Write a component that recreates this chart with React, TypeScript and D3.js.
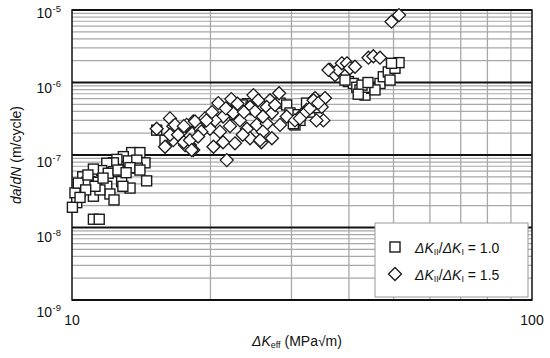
import * as d3 from "d3";

// ΔKII/ΔKI = 1.0  -> [ΔKeff (MPa√m), da/dN (m/cycle)]
const ratio10: [number, number][] = [
  [13.48, 1.08e-7], [14.05, 1.08e-7], [14.41, 7.8e-8], [12.93, 9.5e-8], [13.26, 8.3e-8],
  [13.83, 8.5e-8], [13.87, 6.6e-8], [13.37, 6.7e-8], [12.52, 8.7e-8], [12.3, 7.8e-8],
  [11.9, 7.7e-8], [11.6, 6.1e-8], [11.13, 6.4e-8], [12.3, 5.9e-8], [11.99, 5.6e-8],
  [10.55, 5.0e-8], [10.94, 4.3e-8], [11.4, 4.2e-8], [12.82, 4.3e-8], [13.37, 3.5e-8],
  [14.53, 4.4e-8], [11.9, 3.7e-8], [10.41, 3.1e-8], [10.76, 4.2e-8], [11.13, 2.7e-8],
  [12.09, 2.9e-8], [12.34, 2.4e-8], [10.15, 3.0e-8], [10.24, 2.2e-8], [10.02, 1.9e-8],
  [11.13, 1.3e-8], [11.46, 1.3e-8], [11.5, 3.3e-8], [10.32, 4.1e-8], [10.83, 5.3e-8],
  [11.22, 3.7e-8], [12.59, 6.2e-8], [12.9, 3.7e-8], [11.68, 4.8e-8], [10.71, 3.3e-8],
  [10.41, 2.6e-8], [13.11, 5.7e-8], [14.05, 6.2e-8],
  [15.28, 2.2e-7], [15.93, 1.6e-7], [22.4, 4.9e-7], [23.18, 4.5e-7], [24.1, 5.1e-7],
  [25.0, 4.2e-7], [25.9, 4.7e-7], [28.33, 5.2e-7], [29.28, 4.9e-7], [30.53, 2.6e-7],
  [31.31, 3.0e-7], [32.35, 5.2e-7], [29.78, 3.8e-7], [30.28, 2.7e-7], [32.91, 3.9e-7],
  [34.26, 4.5e-7], [31.0, 3.6e-7], [22.8, 4.7e-7], [23.5, 4.9e-7], [24.5, 4.6e-7],
  [25.4, 4.4e-7], [26.3, 4.5e-7], [21.8, 4.0e-7], [22.6, 3.6e-7],
  [39.9, 1.03e-6], [40.9, 9.7e-7], [41.6, 8.6e-7], [42.27, 7.9e-7], [43.35, 6.7e-7],
  [44.8, 8.3e-7], [43.35, 8.6e-7], [46.73, 9.7e-7], [47.5, 1.2e-6], [48.7, 1.4e-6],
  [49.13, 1.08e-6], [50.37, 1.57e-6], [51.4, 1.88e-6], [49.5, 1.84e-6], [39.21, 1.08e-6],
  [42.7, 9.2e-7], [45.57, 7.9e-7], [41.9, 6.9e-7], [44.0, 1.0e-6],
];

// ΔKII/ΔKI = 1.5
const ratio15: [number, number][] = [
  [51.4, 8.5e-6], [49.5, 6.9e-6], [44.1, 2.2e-6], [45.2, 2.3e-6], [46.73, 2.2e-6],
  [36.38, 1.5e-6], [37.3, 1.27e-6], [37.9, 1.5e-6], [38.6, 1.84e-6], [39.6, 1.84e-6],
  [40.21, 1.57e-6], [41.23, 1.65e-6], [33.75, 6.1e-7], [34.6, 5.4e-7], [35.48, 6.1e-7],
  [34.9, 4.6e-7], [33.2, 4.6e-7], [32.35, 4.2e-7], [35.2, 3.0e-7], [31.57, 3.6e-7],
  [20.8, 5.2e-7], [22.2, 5.9e-7], [24.8, 6.7e-7], [28.2, 7.1e-7], [26.94, 5.7e-7],
  [25.8, 4.9e-7], [24.38, 4.6e-7], [23.4, 4.2e-7], [22.4, 3.8e-7], [21.3, 3.4e-7],
  [20.46, 3.0e-7], [19.46, 3.2e-7], [18.35, 2.9e-7], [17.75, 2.5e-7], [18.98, 2.3e-7],
  [19.95, 2.3e-7], [20.97, 2.1e-7], [22.05, 2.5e-7], [23.18, 3.0e-7], [24.0, 2.3e-7],
  [25.2, 2.6e-7], [26.5, 2.7e-7], [26.0, 2.1e-7], [27.2, 1.7e-7], [25.8, 1.5e-7],
  [24.38, 1.7e-7], [22.61, 1.45e-7], [21.3, 1.5e-7], [20.3, 1.3e-7], [21.7, 8.5e-8],
  [18.05, 1.37e-7], [17.61, 1.37e-7], [18.35, 1.17e-7], [26.5, 4.6e-7], [27.2, 3.8e-7],
  [25.0, 4.0e-7], [26.0, 3.4e-7], [29.3, 3.4e-7], [30.53, 3.0e-7], [32.1, 3.8e-7],
  [32.91, 4.4e-7], [34.0, 3.0e-7], [15.28, 2.3e-7], [16.33, 3.2e-7], [15.93, 1.3e-7],
  [16.6, 1.6e-7], [16.6, 2.5e-7], [17.17, 2.0e-7], [17.75, 2.6e-7], [17.5, 1.5e-7],
  [18.05, 1.6e-7], [18.2, 1.17e-7], [18.51, 2.9e-7], [19.1, 2.1e-7], [19.6, 3.0e-7],
  [25.63, 1.6e-7], [16.75, 2.6e-7], [16.33, 1.9e-7], [17.0, 1.9e-7], [17.5, 2.5e-7],
  [23.65, 3.9e-7], [22.9, 5.1e-7], [21.6, 4.4e-7], [25.4, 5.7e-7], [27.63, 4.9e-7],
  [20.15, 3.9e-7], [18.8, 1.8e-7], [23.5, 1.9e-7], [28.33, 2.6e-7], [33.5, 5.7e-7],
  [34.3, 5.2e-7], [31.3, 3.2e-7], [36.1, 1.49e-6],
];

const yDecades = [-5, -6, -7, -8, -9];
const xTickLabels = [10, 100];
const xMinor = [20, 30, 40, 50, 60, 70, 80, 90];
const legendItems = ["1.0", "1.5"];

const W = 550;
const H = 358;
const margin = { left: 72, top: 10, right: 18, bottom: 58 };
const font = "Arial, 'Liberation Sans', sans-serif";

const Square = ({ x, y }: { x: number; y: number }) => (
  <rect x={x - 5} y={y - 5} width={10} height={10} fill="#fff" stroke="#1a1a1a" strokeWidth={1.4} />
);

const Diamond = ({ x, y }: { x: number; y: number }) => (
  <path
    d={`M${x},${y - 6.5}L${x + 6.5},${y}L${x},${y + 6.5}L${x - 6.5},${y}Z`}
    fill="#fff"
    stroke="#1a1a1a"
    strokeWidth={1.3}
  />
);

export default function App() {
  const x = d3.scaleLog().domain([10, 100]).range([margin.left, W - margin.right]);
  const y = d3.scaleLog().domain([1e-9, 1e-5]).range([H - margin.bottom, margin.top]);

  const yMinor: number[] = [];
  for (let d = -9; d < -5; d++) {
    for (let k = 2; k <= 9; k++) yMinor.push(k * Math.pow(10, d));
  }

  const [x0, x1] = x.range();
  const [y0, y1] = y.range();

  return (
    <svg width={W} height={H} style={{ position: "absolute", left: 0, top: 0 }} fontFamily={font}>
      <rect width={W} height={H} fill="#fff" />

      {/* minor grid */}
      {yMinor.map((v, i) => (
        <line key={"ym" + i} x1={x0} x2={x1} y1={y(v)} y2={y(v)} stroke="#a8a8a8" strokeWidth={1.2} />
      ))}
      {xMinor.map((v) => (
        <line key={"xm" + v} x1={x(v)} x2={x(v)} y1={y1} y2={y0} stroke="#a8a8a8" strokeWidth={1.3} />
      ))}
      {/* decade lines */}
      {yDecades.map((d) => (
        <line key={"yd" + d} x1={x0} x2={x1} y1={y(Math.pow(10, d))} y2={y(Math.pow(10, d))} stroke="#111" strokeWidth={1.8} />
      ))}
      <rect x={x0} y={y1} width={x1 - x0} height={y0 - y1} fill="none" stroke="#111" strokeWidth={1.5} />

      {/* data */}
      {ratio10.map(([k, v], i) => (
        <Square key={"s" + i} x={x(k)} y={y(v)} />
      ))}
      {ratio15.map(([k, v], i) => (
        <Diamond key={"d" + i} x={x(k)} y={y(v)} />
      ))}

      {/* y tick labels */}
      {yDecades.map((d, i) => (
        <text key={"yl" + d} x={52} y={y(Math.pow(10, d)) + 8 + i * 2.2} textAnchor="end" fontSize={14} fill="#111">
          10
        </text>
      ))}
      {yDecades.map((d, i) => (
        <text key={"ys" + d} x={52.5} y={y(Math.pow(10, d)) + 2 + i * 2.2} fontSize={9.5} fill="#111">
          {d}
        </text>
      ))}

      {/* x tick labels */}
      {xTickLabels.map((v) => (
        <text key={"xl" + v} x={x(v)} y={325} textAnchor="middle" fontSize={14} fill="#111">
          {v}
        </text>
      ))}

      {/* axis titles */}
      <text x={252} y={346} fontSize={14} fill="#111">
        <tspan fontStyle="italic">ΔK</tspan>
        <tspan fontSize={9} dy={2}>eff</tspan>
        <tspan dy={-2}> (MPa√m)</tspan>
      </text>
      <text transform={`translate(21,${(y0 + y1) / 2}) rotate(-90)`} textAnchor="middle" fontSize={14} fill="#111">
        <tspan fontStyle="italic">da</tspan>/<tspan fontStyle="italic">dN</tspan> (m/cycle)
      </text>

      {/* legend */}
      <rect x={375} y={223} width={153} height={74} fill="#fff" stroke="#999" strokeWidth={1} />
      {legendItems.map((r, i) => {
        const ly = 247 + i * 27;
        return (
          <g key={"lg" + r}>
            {i === 0 ? <Square x={395} y={ly} /> : <Diamond x={395} y={ly} />}
            <text x={415} y={ly + 5.5} fontSize={14} fill="#111">
              <tspan fontStyle="italic">ΔK</tspan>
              <tspan fontSize={9} dy={2}>II</tspan>
              <tspan dy={-2}>/</tspan>
              <tspan fontStyle="italic">ΔK</tspan>
              <tspan fontSize={9} dy={2}>I</tspan>
              <tspan dy={-2}>{` = ${r}`}</tspan>
            </text>
          </g>
        );
      })}
    </svg>
  );
}
